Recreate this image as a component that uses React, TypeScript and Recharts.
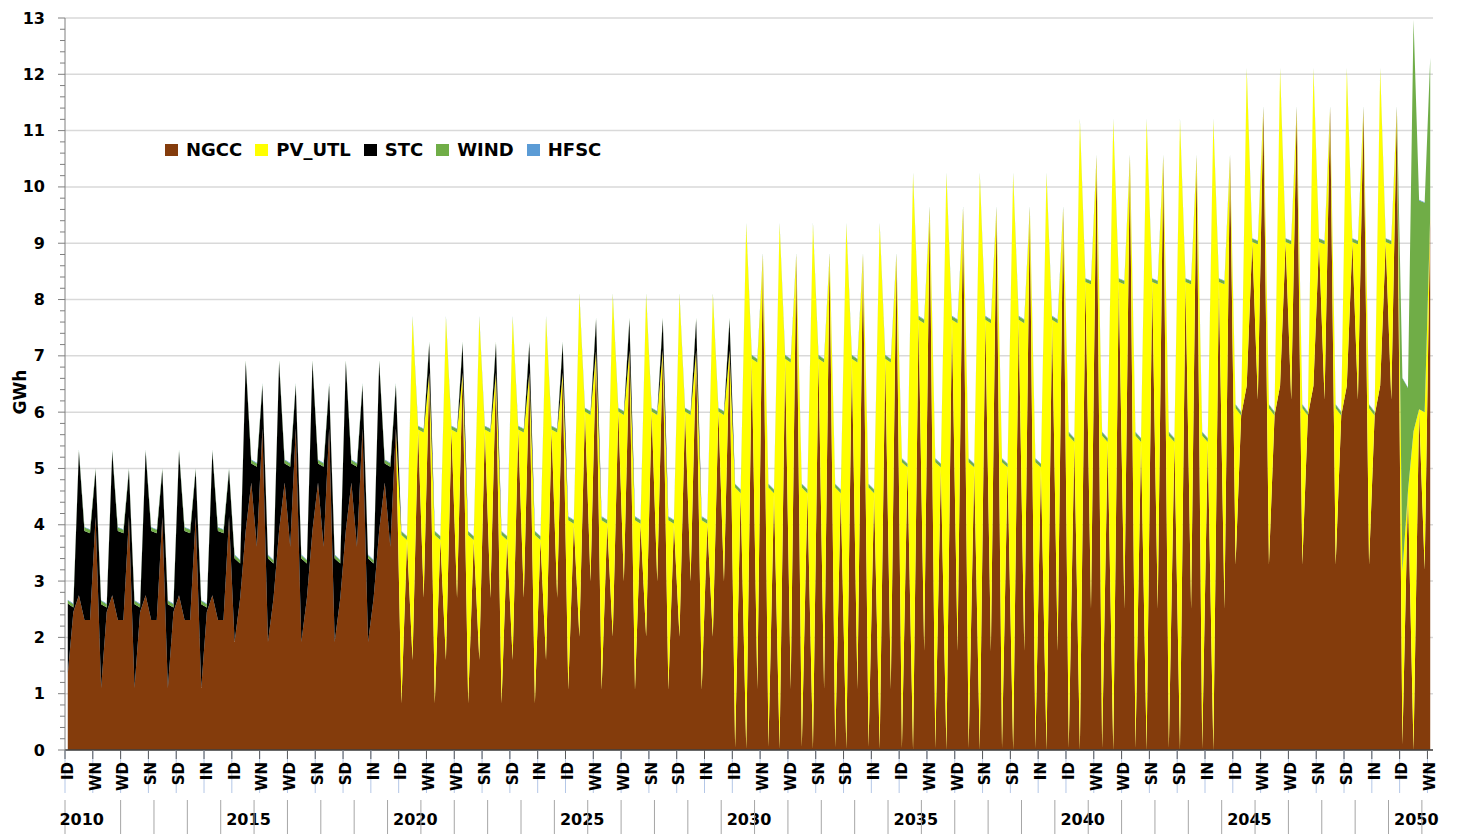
import { AreaChart, Area, XAxis, YAxis, CartesianGrid, Legend } from 'recharts'

// ---- data (GWh per time slice) ----
const YEARS = [
  2010, 2011, 2012, 2013, 2014, 2015, 2016, 2017, 2018, 2019,
  2020, 2021, 2022, 2023, 2024, 2025, 2026, 2027, 2028, 2029,
  2030, 2031, 2032, 2033, 2034, 2035, 2036, 2037, 2038, 2039,
  2040, 2041, 2042, 2043, 2044, 2045, 2046, 2047, 2048, 2049,
  2050,
]
const SLICES = ['ID', 'IN', 'SD', 'SN', 'WD', 'WN']

// one row per year, columns follow SLICES
const NGCC = [
  [1.35, 2.45, 2.75, 2.31, 2.31, 4.14],
  [1.10, 2.45, 2.75, 2.31, 2.31, 4.14],
  [1.10, 2.45, 2.75, 2.31, 2.31, 4.14],
  [1.10, 2.45, 2.75, 2.31, 2.31, 4.14],
  [1.10, 2.45, 2.75, 2.31, 2.31, 4.14],
  [1.92, 2.70, 3.90, 4.75, 3.61, 5.71],
  [1.92, 2.70, 3.90, 4.75, 3.61, 5.71],
  [1.92, 2.70, 3.90, 4.75, 3.61, 5.71],
  [1.92, 2.70, 3.90, 4.75, 3.61, 5.71],
  [1.92, 2.70, 3.90, 4.75, 3.61, 5.71],
  [0.83, 3.73, 1.60, 5.69, 2.70, 6.70],
  [0.83, 3.73, 1.60, 5.69, 2.70, 6.70],
  [0.83, 3.73, 1.60, 5.69, 2.70, 6.70],
  [0.83, 3.73, 1.60, 5.69, 2.70, 6.70],
  [0.83, 3.73, 1.60, 5.69, 2.70, 6.70],
  [1.07, 4.02, 2.01, 6.01, 2.99, 7.10],
  [1.07, 4.02, 2.01, 6.01, 2.99, 7.10],
  [1.07, 4.02, 2.01, 6.01, 2.99, 7.10],
  [1.07, 4.02, 2.01, 6.01, 2.99, 7.10],
  [1.07, 4.02, 2.01, 6.01, 2.99, 7.10],
  [0.05, 4.56, 0.02, 6.95, 1.08, 8.79],
  [0.05, 4.56, 0.02, 6.95, 1.08, 8.79],
  [0.05, 4.56, 0.02, 6.95, 1.08, 8.79],
  [0.05, 4.56, 0.02, 6.95, 1.08, 8.79],
  [0.05, 4.56, 0.02, 6.95, 1.08, 8.79],
  [0.03, 5.02, 0.00, 7.64, 1.75, 9.62],
  [0.03, 5.02, 0.00, 7.64, 1.75, 9.62],
  [0.03, 5.02, 0.00, 7.64, 1.75, 9.62],
  [0.03, 5.02, 0.00, 7.64, 1.75, 9.62],
  [0.03, 5.02, 0.00, 7.64, 1.75, 9.62],
  [0.03, 5.47, 0.00, 8.31, 2.50, 10.54],
  [0.03, 5.47, 0.00, 8.31, 2.50, 10.54],
  [0.03, 5.47, 0.00, 8.31, 2.50, 10.54],
  [0.03, 5.47, 0.00, 8.31, 2.50, 10.54],
  [0.03, 5.47, 0.00, 8.31, 2.50, 10.54],
  [3.29, 5.94, 6.47, 9.02, 6.22, 11.40],
  [3.29, 5.94, 6.47, 9.02, 6.22, 11.40],
  [3.29, 5.94, 6.47, 9.02, 6.22, 11.40],
  [3.29, 5.94, 6.47, 9.02, 6.22, 11.40],
  [3.29, 5.94, 6.47, 9.02, 6.22, 11.40],
  [0.10, 4.60, 0.00, 6.05, 3.20, 9.50],
]

const PV_UTL = [
  [0, 0, 0, 0, 0, 0],
  [0, 0, 0, 0, 0, 0],
  [0, 0, 0, 0, 0, 0],
  [0, 0, 0, 0, 0, 0],
  [0, 0, 0, 0, 0, 0],
  [0, 0, 0, 0, 0, 0],
  [0, 0, 0, 0, 0, 0],
  [0, 0, 0, 0, 0, 0],
  [0, 0, 0, 0, 0, 0],
  [0, 0, 0, 0, 0, 0],
  [2.99, 0, 6.07, 0, 2.94, 0],
  [2.99, 0, 6.07, 0, 2.94, 0],
  [2.99, 0, 6.07, 0, 2.94, 0],
  [2.99, 0, 6.07, 0, 2.94, 0],
  [2.99, 0, 6.07, 0, 2.94, 0],
  [3.01, 0, 6.07, 0, 2.96, 0],
  [3.01, 0, 6.07, 0, 2.96, 0],
  [3.01, 0, 6.07, 0, 2.96, 0],
  [3.01, 0, 6.07, 0, 2.96, 0],
  [3.01, 0, 6.07, 0, 2.96, 0],
  [4.61, 0, 9.31, 0, 5.80, 0],
  [4.61, 0, 9.31, 0, 5.80, 0],
  [4.61, 0, 9.31, 0, 5.80, 0],
  [4.61, 0, 9.31, 0, 5.80, 0],
  [4.61, 0, 9.31, 0, 5.80, 0],
  [5.08, 0, 10.22, 0, 5.83, 0],
  [5.08, 0, 10.22, 0, 5.83, 0],
  [5.08, 0, 10.22, 0, 5.83, 0],
  [5.08, 0, 10.22, 0, 5.83, 0],
  [5.08, 0, 10.22, 0, 5.83, 0],
  [5.55, 0, 11.18, 0, 5.77, 0],
  [5.55, 0, 11.18, 0, 5.77, 0],
  [5.55, 0, 11.18, 0, 5.77, 0],
  [5.55, 0, 11.18, 0, 5.77, 0],
  [5.55, 0, 11.18, 0, 5.77, 0],
  [2.78, 0, 5.61, 0, 2.76, 0],
  [2.78, 0, 5.61, 0, 2.76, 0],
  [2.78, 0, 5.61, 0, 2.76, 0],
  [2.78, 0, 5.61, 0, 2.76, 0],
  [2.78, 0, 5.61, 0, 2.76, 0],
  [3.06, 0, 5.66, 0, 2.80, 0],
]

const STC = [
  [1.25, 0.08, 2.55, 1.58, 1.54, 0.83],
  [1.49, 0.08, 2.55, 1.58, 1.54, 0.83],
  [1.49, 0.08, 2.55, 1.58, 1.54, 0.83],
  [1.49, 0.08, 2.55, 1.58, 1.54, 0.83],
  [1.49, 0.08, 2.55, 1.58, 1.54, 0.83],
  [1.48, 0.61, 2.99, 0.34, 1.42, 0.77],
  [1.48, 0.61, 2.99, 0.34, 1.42, 0.77],
  [1.48, 0.61, 2.99, 0.34, 1.42, 0.77],
  [1.48, 0.61, 2.99, 0.34, 1.42, 0.77],
  [1.48, 0.61, 2.99, 0.34, 1.42, 0.77],
  [0, 0, 0, 0, 0, 0.52],
  [0, 0, 0, 0, 0, 0.52],
  [0, 0, 0, 0, 0, 0.52],
  [0, 0, 0, 0, 0, 0.52],
  [0, 0, 0, 0, 0, 0.52],
  [0, 0, 0, 0, 0, 0.54],
  [0, 0, 0, 0, 0, 0.54],
  [0, 0, 0, 0, 0, 0.54],
  [0, 0, 0, 0, 0, 0.54],
  [0, 0, 0, 0, 0, 0.54],
  [0, 0, 0, 0, 0, 0],
  [0, 0, 0, 0, 0, 0],
  [0, 0, 0, 0, 0, 0],
  [0, 0, 0, 0, 0, 0],
  [0, 0, 0, 0, 0, 0],
  [0, 0, 0, 0, 0, 0],
  [0, 0, 0, 0, 0, 0],
  [0, 0, 0, 0, 0, 0],
  [0, 0, 0, 0, 0, 0],
  [0, 0, 0, 0, 0, 0],
  [0, 0, 0, 0, 0, 0],
  [0, 0, 0, 0, 0, 0],
  [0, 0, 0, 0, 0, 0],
  [0, 0, 0, 0, 0, 0],
  [0, 0, 0, 0, 0, 0],
  [0, 0, 0, 0, 0, 0],
  [0, 0, 0, 0, 0, 0],
  [0, 0, 0, 0, 0, 0],
  [0, 0, 0, 0, 0, 0],
  [0, 0, 0, 0, 0, 0],
  [0, 0, 0, 0, 0, 0],
]

const WIND = [
  [0.06, 0.06, 0.03, 0.06, 0.06, 0.03],
  [0.06, 0.06, 0.03, 0.06, 0.06, 0.03],
  [0.06, 0.06, 0.03, 0.06, 0.06, 0.03],
  [0.06, 0.06, 0.03, 0.06, 0.06, 0.03],
  [0.06, 0.06, 0.03, 0.06, 0.06, 0.03],
  [0.06, 0.06, 0.03, 0.06, 0.06, 0.03],
  [0.06, 0.06, 0.03, 0.06, 0.06, 0.03],
  [0.06, 0.06, 0.03, 0.06, 0.06, 0.03],
  [0.06, 0.06, 0.03, 0.06, 0.06, 0.03],
  [0.06, 0.06, 0.03, 0.06, 0.06, 0.03],
  [0.06, 0.06, 0.03, 0.06, 0.06, 0.03],
  [0.06, 0.06, 0.03, 0.06, 0.06, 0.03],
  [0.06, 0.06, 0.03, 0.06, 0.06, 0.03],
  [0.06, 0.06, 0.03, 0.06, 0.06, 0.03],
  [0.06, 0.06, 0.03, 0.06, 0.06, 0.03],
  [0.06, 0.06, 0.03, 0.06, 0.06, 0.03],
  [0.06, 0.06, 0.03, 0.06, 0.06, 0.03],
  [0.06, 0.06, 0.03, 0.06, 0.06, 0.03],
  [0.06, 0.06, 0.03, 0.06, 0.06, 0.03],
  [0.06, 0.06, 0.03, 0.06, 0.06, 0.03],
  [0.06, 0.06, 0.03, 0.06, 0.06, 0.03],
  [0.06, 0.06, 0.03, 0.06, 0.06, 0.03],
  [0.06, 0.06, 0.03, 0.06, 0.06, 0.03],
  [0.06, 0.06, 0.03, 0.06, 0.06, 0.03],
  [0.06, 0.06, 0.03, 0.06, 0.06, 0.03],
  [0.06, 0.06, 0.03, 0.06, 0.06, 0.03],
  [0.06, 0.06, 0.03, 0.06, 0.06, 0.03],
  [0.06, 0.06, 0.03, 0.06, 0.06, 0.03],
  [0.06, 0.06, 0.03, 0.06, 0.06, 0.03],
  [0.06, 0.06, 0.03, 0.06, 0.06, 0.03],
  [0.06, 0.06, 0.03, 0.06, 0.06, 0.03],
  [0.06, 0.06, 0.03, 0.06, 0.06, 0.03],
  [0.06, 0.06, 0.03, 0.06, 0.06, 0.03],
  [0.06, 0.06, 0.03, 0.06, 0.06, 0.03],
  [0.06, 0.06, 0.03, 0.06, 0.06, 0.03],
  [0.06, 0.06, 0.03, 0.06, 0.06, 0.03],
  [0.06, 0.06, 0.03, 0.06, 0.06, 0.03],
  [0.06, 0.06, 0.03, 0.06, 0.06, 0.03],
  [0.06, 0.06, 0.03, 0.06, 0.06, 0.03],
  [0.06, 0.06, 0.03, 0.06, 0.06, 0.03],
  [3.44, 1.83, 7.31, 3.71, 3.72, 2.79],
]

const HFSC = [
  [0.01, 0.01, 0.01, 0.01, 0.01, 0.01],
  [0.01, 0.01, 0.01, 0.01, 0.01, 0.01],
  [0.01, 0.01, 0.01, 0.01, 0.01, 0.01],
  [0.01, 0.01, 0.01, 0.01, 0.01, 0.01],
  [0.01, 0.01, 0.01, 0.01, 0.01, 0.01],
  [0.01, 0.01, 0.01, 0.01, 0.01, 0.01],
  [0.01, 0.01, 0.01, 0.01, 0.01, 0.01],
  [0.01, 0.01, 0.01, 0.01, 0.01, 0.01],
  [0.01, 0.01, 0.01, 0.01, 0.01, 0.01],
  [0.01, 0.01, 0.01, 0.01, 0.01, 0.01],
  [0.01, 0.01, 0.01, 0.01, 0.01, 0.01],
  [0.01, 0.01, 0.01, 0.01, 0.01, 0.01],
  [0.01, 0.01, 0.01, 0.01, 0.01, 0.01],
  [0.01, 0.01, 0.01, 0.01, 0.01, 0.01],
  [0.01, 0.01, 0.01, 0.01, 0.01, 0.01],
  [0.01, 0.01, 0.01, 0.01, 0.01, 0.01],
  [0.01, 0.01, 0.01, 0.01, 0.01, 0.01],
  [0.01, 0.01, 0.01, 0.01, 0.01, 0.01],
  [0.01, 0.01, 0.01, 0.01, 0.01, 0.01],
  [0.01, 0.01, 0.01, 0.01, 0.01, 0.01],
  [0.01, 0.01, 0.01, 0.01, 0.01, 0.01],
  [0.01, 0.01, 0.01, 0.01, 0.01, 0.01],
  [0.01, 0.01, 0.01, 0.01, 0.01, 0.01],
  [0.01, 0.01, 0.01, 0.01, 0.01, 0.01],
  [0.01, 0.01, 0.01, 0.01, 0.01, 0.01],
  [0.01, 0.01, 0.01, 0.01, 0.01, 0.01],
  [0.01, 0.01, 0.01, 0.01, 0.01, 0.01],
  [0.01, 0.01, 0.01, 0.01, 0.01, 0.01],
  [0.01, 0.01, 0.01, 0.01, 0.01, 0.01],
  [0.01, 0.01, 0.01, 0.01, 0.01, 0.01],
  [0.01, 0.01, 0.01, 0.01, 0.01, 0.01],
  [0.01, 0.01, 0.01, 0.01, 0.01, 0.01],
  [0.01, 0.01, 0.01, 0.01, 0.01, 0.01],
  [0.01, 0.01, 0.01, 0.01, 0.01, 0.01],
  [0.01, 0.01, 0.01, 0.01, 0.01, 0.01],
  [0.01, 0.01, 0.01, 0.01, 0.01, 0.01],
  [0.01, 0.01, 0.01, 0.01, 0.01, 0.01],
  [0.01, 0.01, 0.01, 0.01, 0.01, 0.01],
  [0.01, 0.01, 0.01, 0.01, 0.01, 0.01],
  [0.01, 0.01, 0.01, 0.01, 0.01, 0.01],
  [0.01, 0.01, 0.01, 0.01, 0.01, 0.01],
]

const Y_MAJOR = [0, 1, 2, 3, 4, 5, 6, 7, 8, 9, 10, 11, 12, 13]
// minor tick marks on the value axis every 0.2
const Y_TICKS = Array.from({ length: 13 * 5 + 1 }, (_, k) => k / 5)

const SERIES = [
  { key: 'NGCC', color: '#843C0C' },
  { key: 'PV_UTL', color: '#FFFF00' },
  { key: 'STC', color: '#000000' },
  { key: 'WIND', color: '#70AD47' },
  { key: 'HFSC', color: '#5B9BD5' },
]

const DATA = YEARS.flatMap((year, yi) =>
  SLICES.map((slice, si) => ({
    year,
    slice,
    NGCC: NGCC[yi][si],
    PV_UTL: PV_UTL[yi][si],
    STC: STC[yi][si],
    WIND: WIND[yi][si],
    HFSC: HFSC[yi][si],
  })),
)

// ---- layout ----
const FONT = '"DejaVu Sans", Verdana, sans-serif'
const WIDTH = 1460
const HEIGHT = 834
const PLOT_LEFT = 65
const PLOT_RIGHT = 1433
const PLOT_TOP = 18
const PLOT_BOTTOM = 750
const Y_AXIS_W = 50
const STEP = (PLOT_RIGHT - PLOT_LEFT) / DATA.length

function ValueTick({ y, payload }: any) {
  const major = Number.isInteger(payload.value)
  return (
    <g>
      <line x1={PLOT_LEFT - (major ? 7 : 5)} x2={PLOT_LEFT} y1={y} y2={y} stroke="#7f7f7f" />
      {major && (
        <text
          x={PLOT_LEFT - 20}
          y={y}
          textAnchor="end"
          dominantBaseline="central"
          fontFamily={FONT}
          fontWeight="bold"
          fontSize={16}
          fill="#000"
        >
          {payload.value}
        </text>
      )}
    </g>
  )
}

function SliceTick({ x, index }: any) {
  const row = DATA[index]
  if (!row) return null
  const left = x - STEP / 2
  const labelTop = PLOT_BOTTOM + 12
  return (
    <g>
      {index % 5 === 0 && (
        <g>
          <line x1={left} x2={left} y1={PLOT_BOTTOM} y2={PLOT_BOTTOM + 43} stroke="#b4c7e7" />
          <line x1={left} x2={left} y1={PLOT_BOTTOM} y2={PLOT_BOTTOM + 9} stroke="#595959" />
          <text
            x={x}
            y={labelTop}
            transform={`rotate(-90 ${x} ${labelTop})`}
            textAnchor="end"
            dominantBaseline="central"
            fontFamily={FONT}
            fontWeight="bold"
            fontSize={15}
            fill="#000"
          >
            {row.slice}
          </text>
        </g>
      )}
      {(index === 0 || (index >= 10 && (index - 10) % 6 === 0)) && (
        <line x1={left} x2={left} y1={PLOT_BOTTOM + 50} y2={HEIGHT} stroke="#a6a6a6" />
      )}
      {index % 6 === 2 && row.year % 5 === 0 && (
        <text
          x={x + STEP / 2}
          y={PLOT_BOTTOM + 75}
          textAnchor="middle"
          fontFamily={FONT}
          fontWeight="bold"
          fontSize={16}
          fill="#000"
        >
          {row.year}
        </text>
      )}
    </g>
  )
}

function LegendContent({ payload }: any) {
  // keep the stacking order, not the library's alphabetical order
  const items = SERIES.map((s) => ({
    ...s,
    name: (payload || []).find((p: any) => p.dataKey === s.key)?.value ?? s.key,
  }))
  return (
    <div
      style={{
        display: 'flex',
        alignItems: 'center',
        fontFamily: FONT,
        fontWeight: 'bold',
        fontSize: 18,
        color: '#000',
        whiteSpace: 'nowrap',
      }}
    >
      {items.map((s) => (
        <div key={s.key} style={{ display: 'flex', alignItems: 'center', marginRight: 13 }}>
          <span style={{ width: 13, height: 12, background: s.color, marginRight: 8 }} />
          <span>{s.name}</span>
        </div>
      ))}
    </div>
  )
}

export default function App() {
  return (
    <div style={{ position: 'absolute', left: 0, top: 0, background: '#fff' }}>
      <AreaChart
        width={WIDTH}
        height={HEIGHT}
        data={DATA}
        margin={{
          top: PLOT_TOP,
          right: WIDTH - PLOT_RIGHT,
          left: PLOT_LEFT - Y_AXIS_W,
          bottom: 0,
        }}
      >
        <CartesianGrid
          vertical={false}
          horizontalValues={Y_MAJOR}
          stroke="#d9d9d9"
          strokeWidth={1.5}
        />
        <XAxis
          dataKey="slice"
          interval={0}
          height={HEIGHT - PLOT_BOTTOM}
          padding={{ left: STEP / 2, right: STEP / 2 }}
          tickLine={false}
          axisLine={{ stroke: '#404040', strokeWidth: 1.5 }}
          tick={<SliceTick />}
        />
        <YAxis
          type="number"
          domain={[0, 13]}
          ticks={Y_TICKS}
          interval={0}
          width={Y_AXIS_W}
          tickLine={false}
          axisLine={{ stroke: '#7f7f7f' }}
          tick={<ValueTick />}
          label={{
            content: () => (
              <text
                x={20}
                y={392}
                transform="rotate(-90 20 392)"
                textAnchor="middle"
                dominantBaseline="central"
                fontFamily={FONT}
                fontWeight="bold"
                fontSize={17}
                fill="#000"
              >
                GWh
              </text>
            ),
          }}
        />
        {/* centred + middle keeps the legend from eating into the plot area */}
        <Legend
          layout="horizontal"
          verticalAlign="middle"
          align="center"
          wrapperStyle={{ top: 139, left: 165, width: 540 }}
          content={<LegendContent />}
        />
        {SERIES.map((s) => (
          <Area
            key={s.key}
            type="linear"
            dataKey={s.key}
            name={s.key}
            stackId="gen"
            fill={s.color}
            fillOpacity={1}
            stroke="none"
            dot={false}
            activeDot={false}
            isAnimationActive={false}
          />
        ))}
      </AreaChart>
    </div>
  )
}
